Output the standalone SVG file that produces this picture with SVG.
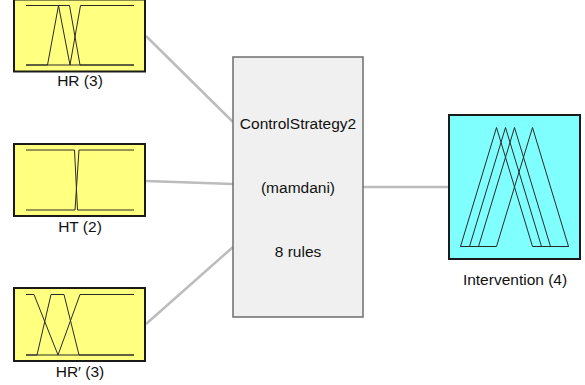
<svg xmlns="http://www.w3.org/2000/svg" width="585" height="385" viewBox="0 0 585 385">
  <style>
    .in { fill: #ffff80; stroke: #1a1a1a; stroke-width: 2; }
    .out { fill: #80ffff; stroke: #1a1a1a; stroke-width: 2; }
    .sys { fill: #f0f0f0; stroke: #6e6e6e; stroke-width: 1.5; }
    .mf { fill: none; stroke: #2a2a2a; stroke-width: 1; stroke-linejoin: round; }
    .link { fill: none; stroke: #bcbcbc; stroke-width: 2.5; }
    text { font-family: "Liberation Sans", Arial, sans-serif; font-size: 15.5px; fill: #111; text-anchor: middle; }
  </style>

  <!-- connectors -->
  <g id="connectors">
    <line class="link" x1="146" y1="36" x2="233" y2="122"/>
    <line class="link" x1="146" y1="181" x2="233" y2="184"/>
    <line class="link" x1="146" y1="324" x2="233" y2="247"/>
    <line class="link" x1="363" y1="187" x2="449" y2="187"/>
  </g>

  <!-- input HR -->
  <g id="input-HR">
    <rect class="in" x="14" y="-0.5" width="131" height="72"/>
    <polyline class="mf" points="26,5.5 69.5,5.5 80,65 134,65"/>
    <polyline class="mf" points="26,65 47.5,65 58.5,5.5 70,65 134,65"/>
    <polyline class="mf" points="26,65 70,65 80.5,5.5 134,5.5"/>
    <text x="80" y="86">HR (3)</text>
  </g>

  <!-- input HT -->
  <g id="input-HT">
    <rect class="in" x="14" y="144" width="131" height="72"/>
    <polyline class="mf" points="26,150 74.5,150 77.5,210 134,210"/>
    <polyline class="mf" points="26,210 75,210 79,150 134,150"/>
    <text x="80" y="231.5">HT (2)</text>
  </g>

  <!-- input HR' -->
  <g id="input-HRp">
    <rect class="in" x="14" y="288" width="131" height="73"/>
    <polyline class="mf" points="26,294.5 34,294.5 58,355 134,355"/>
    <polyline class="mf" points="26,355 37,355 51,294.5 64,294.5 79,355 134,355"/>
    <polyline class="mf" points="26,355 58,355 80,294.5 134,294.5"/>
    <text x="80" y="376.5">HR′ (3)</text>
  </g>

  <!-- rule system -->
  <g id="system">
    <rect class="sys" x="233" y="57" width="130" height="260"/>
    <text x="298" y="129">ControlStrategy2</text>
    <text x="298" y="193">(mamdani)</text>
    <text x="298" y="257">8 rules</text>
  </g>

  <!-- output Intervention -->
  <g id="output-Intervention">
    <rect class="out" x="449" y="115" width="131" height="144"/>
    <polyline class="mf" points="460.5,246.5 496.5,127.5 532.5,246.5 568.5,246.5"/>
    <polyline class="mf" points="460.5,246.5 469.5,246.5 505.5,127.5 541.5,246.5 568.5,246.5"/>
    <polyline class="mf" points="460.5,246.5 478.5,246.5 514.5,127.5 550.5,246.5 568.5,246.5"/>
    <polyline class="mf" points="460.5,246.5 496.5,246.5 532.5,127.5 568.5,246.5"/>
    <text x="515" y="284.5">Intervention (4)</text>
  </g>
</svg>
